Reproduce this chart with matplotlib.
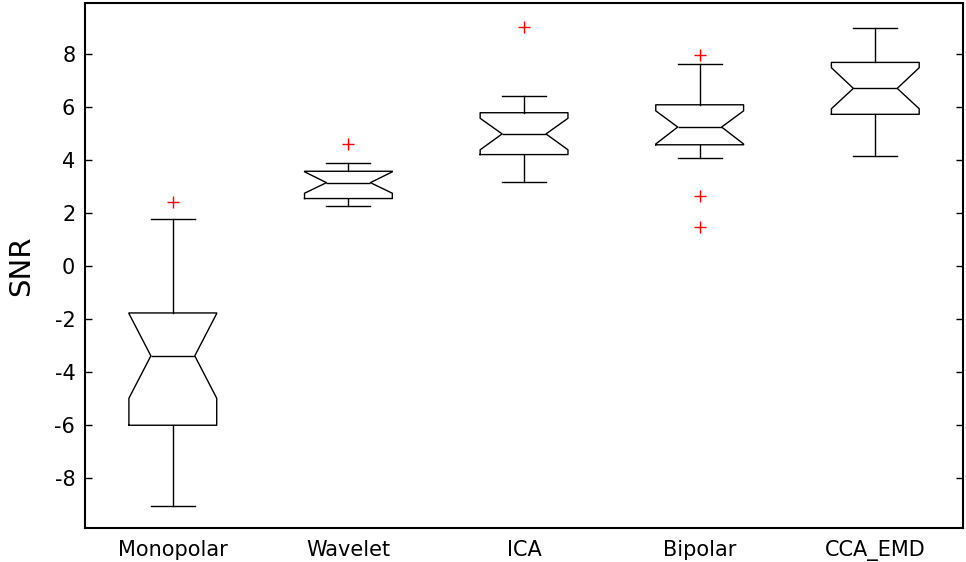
import matplotlib
matplotlib.use("Agg")
import matplotlib.pyplot as plt

# boxplot stats
labels = ["Monopolar", "Wavelet", "ICA", "Bipolar", "CCA_EMD"]
whislo = [-9.08, 2.24, 3.15, 4.08, 4.13]
q1 = [-6.02, 2.54, 4.20, 4.57, 5.72]
cilo = [-5.00, 2.74, 4.38, 4.60, 5.93]
med = [-3.40, 3.14, 4.98, 5.24, 6.70]
cihi = [-1.80, 3.55, 5.57, 5.85, 7.48]
q3 = [-1.78, 3.57, 5.78, 6.08, 7.68]
whishi = [1.75, 3.87, 6.40, 7.62, 8.98]
fliers = [[2.40], [4.60], [9.00], [7.97, 2.65, 1.48], []]

plt.rcParams["font.family"] = ["DejaVu Sans"]
plt.rcParams["axes.unicode_minus"] = False

stats = []
for i in range(len(labels)):
    stats.append({
        "label": labels[i], "whislo": whislo[i], "q1": q1[i],
        "cilo": cilo[i], "med": med[i], "cihi": cihi[i],
        "q3": q3[i], "whishi": whishi[i], "fliers": fliers[i],
    })

fig = plt.figure(figsize=(9.66, 5.62), dpi=100)
ax = fig.add_axes([0.088, 0.0605, 0.909, 0.934])

line = dict(color="black", linewidth=1.0)
ax.bxp(stats, positions=range(1, 6), widths=0.5, shownotches=True,
       boxprops=line, whiskerprops=line, capprops=line, medianprops=line,
       flierprops=dict(marker="+", markeredgecolor="red", markersize=9,
                       markeredgewidth=1.0, linestyle="none"))

ax.set_xlim(0.5, 5.5)
ax.set_ylim(-9.9, 9.92)
ax.set_yticks(range(-8, 9, 2))
ax.set_ylabel("SNR", fontsize=21, labelpad=14)

ax.tick_params(axis="y", direction="in", length=5, width=1, pad=7,
               labelsize=15, left=True, right=True)
ax.tick_params(axis="x", length=0, pad=9, labelsize=15)
for s in ax.spines.values():
    s.set_linewidth(1.5)

fig.savefig("out.png", dpi=100)
